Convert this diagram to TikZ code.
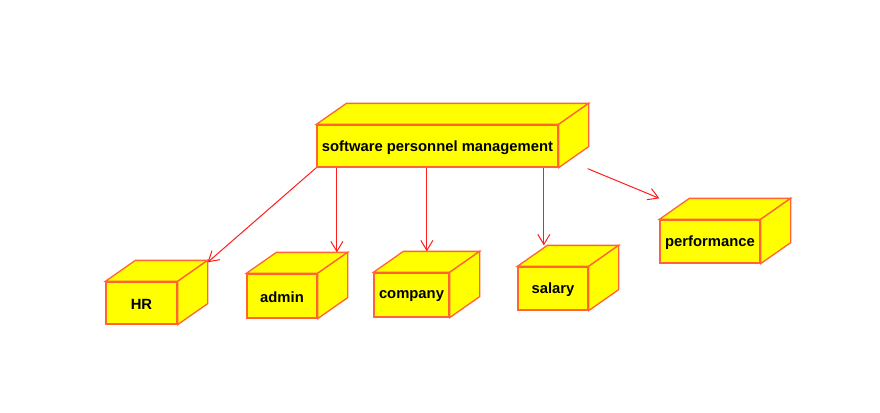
\documentclass[tikz,border=0pt]{standalone}
\usepackage{fontspec}
\setmainfont{Liberation Sans}
\usetikzlibrary{arrows.meta,calc}
\definecolor{edgecol}{RGB}{255,100,50}
\definecolor{arrcol}{RGB}{255,30,30}
\definecolor{boxfill}{RGB}{255,255,0}
\tikzset{
  front/.style={draw=edgecol, fill=boxfill, line width=1.3pt, inner sep=0pt},
  face/.style={draw=edgecol, fill=boxfill, line width=1.3pt, line join=miter},
  lbl/.style={font=\fontsize{14.8}{17}\selectfont\bfseries, inner sep=0pt},
  arr/.style={draw=arrcol, line width=1pt, -{Straight Barb[length=10pt,width=12pt,line width=1pt]}}
}
% \mycube{name}{x}{y}{w}{h}{text}
\newcommand{\mycube}[6]{%
  \node[front, minimum width=#4pt, minimum height=#5pt] (#1) at (#2,#3) {};
  \coordinate (#1-bnw) at ($(#1.north west)+(30,-21)$);
  \coordinate (#1-bne) at ($(#1.north east)+(30,-21)$);
  \coordinate (#1-bse) at ($(#1.south east)+(30,-21)$);
  \path[face] (#1.north west) -- (#1-bnw) -- (#1-bne) -- (#1.north east) -- cycle;
  \path[face] (#1.north east) -- (#1-bne) -- (#1-bse) -- (#1.south east) -- cycle;
  \node[front, minimum width=#4pt, minimum height=#5pt] at (#2,#3) {};
  \node[lbl] (#1-txt) at ($(#1)+(0,1.5)$) {#6};
}
\begin{document}
\begin{tikzpicture}[x=1pt,y=-1pt]
\useasboundingbox (0,0) rectangle (880,412);
\mycube{main}{437.5}{146}{241}{42}{software personnel management}
\mycube{HR}{141.5}{303}{71}{42}{HR}
\mycube{admin}{282}{296}{70}{44}{admin}
\mycube{company}{411.5}{295}{75}{44}{company}
\mycube{salary}{553}{288.5}{70}{43}{salary}
\mycube{perf}{710}{241.5}{100}{43}{performance}
% arrow targets
\coordinate (admin-in) at ($(admin-bnw)+(60.5,0)$);
\coordinate (company-in) at ($(company-bnw)+(23.5,0)$);
\coordinate (salary-in) at ($(salary-bnw)+(-3.5,0)$);
\coordinate (perf-in) at ($(perf.north west)+(0,-21)$);
\coordinate (main-out) at ($(main.south east)+(29,1)$);
\draw[arr] (main.south west) -- ($(HR-bne)+(0,2)$);
\draw[arr] (admin-in |- main.south) -- (admin-in);
\draw[arr] (company-in |- main.south) -- (company-in);
\draw[arr] (salary-in |- main.south) -- (salary-in);
\draw[arr] (main-out) -- (perf-in);
\end{tikzpicture}
\end{document}
